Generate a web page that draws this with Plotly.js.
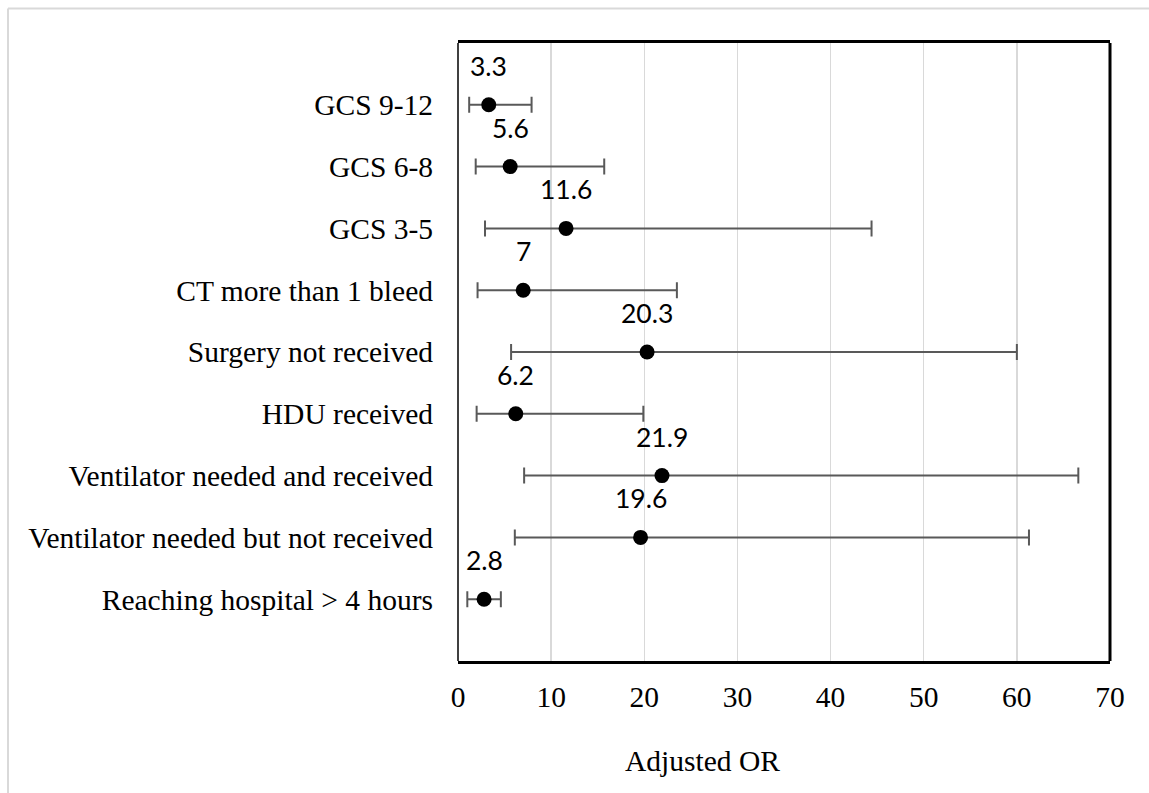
<!DOCTYPE html>
<html>
<head>
<meta charset="utf-8">
<script src="https://cdn.plot.ly/plotly-3.0.1.min.js"></script>
<style>html,body{margin:0;padding:0;background:#fff;}#chart{width:1149px;height:793px;}</style>
</head>
<body>
<div id="chart"></div>
<script>
const categories = ["GCS 9-12", "GCS 6-8", "GCS 3-5", "CT more than 1 bleed", "Surgery not received", "HDU received", "Ventilator needed and received", "Ventilator needed but not received", "Reaching hospital > 4 hours"];
const oddsRatio = [3.3, 5.6, 11.6, 7, 20.3, 6.2, 21.9, 19.6, 2.8];
const ciLow = [1.2, 1.9, 2.9, 2.1, 5.7, 2.0, 7.1, 6.1, 1.0];
const ciHigh = [7.9, 15.7, 44.4, 23.5, 60.0, 19.9, 66.6, 61.3, 4.6];
const xTicks = [0, 10, 20, 30, 40, 50, 60, 70];

const idx = categories.map((c, i) => i);
const trace = {
  type: 'scatter', mode: 'markers',
  x: oddsRatio, y: idx,
  marker: {color: '#000', size: 15},
  error_x: {
    type: 'data', symmetric: false,
    array: oddsRatio.map((v, i) => ciHigh[i] - v),
    arrayminus: oddsRatio.map((v, i) => v - ciLow[i]),
    color: '#595959', thickness: 2, width: 8
  },
  hoverinfo: 'none', showlegend: false
};

const annotations = oddsRatio.map((v, i) => ({
  x: v, y: i, xref: 'x', yref: 'y', text: String(v), showarrow: false,
  yshift: 39, font: {family: 'Lato', size: 26.5, color: '#000'}
}));
annotations.push({
  xref: 'paper', yref: 'paper', x: (702 - 458) / 652, y: (661 - 761) / 618.5,
  xanchor: 'center', yanchor: 'middle', showarrow: false, text: 'Adjusted OR',
  font: {family: 'Liberation Serif', size: 29.5, color: '#000'}
});

const layout = {
  width: 1149, height: 793,
  margin: {l: 458, r: 39, t: 42.5, b: 132},
  paper_bgcolor: '#fff', plot_bgcolor: '#fff',
  font: {family: 'Liberation Serif', size: 29.5, color: '#000'},
  xaxis: {
    range: [0, 70], tickvals: xTicks, ticktext: xTicks.map(String),
    showgrid: true, gridcolor: '#d9d9d9', gridwidth: 1.5, zeroline: false,
    showline: true, linecolor: '#000', linewidth: 3, mirror: true,
    ticks: '', ticklabelstandoff: 8,
    tickfont: {family: 'Liberation Serif', size: 29.5, color: '#000'}
  },
  yaxis: {
    range: [9, -1], tickvals: idx, ticktext: categories,
    showgrid: false, zeroline: false, showline: false,
    ticks: '', ticklabelstandoff: 24,
    tickfont: {family: 'Liberation Serif', size: 29.5, color: '#000'}
  },
  shapes: [
    {type: 'line', xref: 'paper', yref: 'paper', x0: 0, x1: 0, y0: 0, y1: 1, line: {color: '#404040', width: 2}},
    {type: 'line', xref: 'paper', yref: 'paper', x0: 1, x1: 1, y0: 0, y1: 1, line: {color: '#000', width: 3}},
    {type: 'line', xref: 'paper', yref: 'paper', x0: (8 - 458) / 652, x1: 1.1, y0: (661 - 8) / 618.5, y1: (661 - 8) / 618.5, line: {color: '#d9d9d9', width: 2}},
    {type: 'line', xref: 'paper', yref: 'paper', x0: (8 - 458) / 652, x1: (8 - 458) / 652, y0: (661 - 8) / 618.5, y1: -0.3, line: {color: '#d9d9d9', width: 2}}
  ],
  annotations: annotations
};

Plotly.newPlot('chart', [trace], layout, {displayModeBar: false, staticPlot: true});
</script>
</body>
</html>
